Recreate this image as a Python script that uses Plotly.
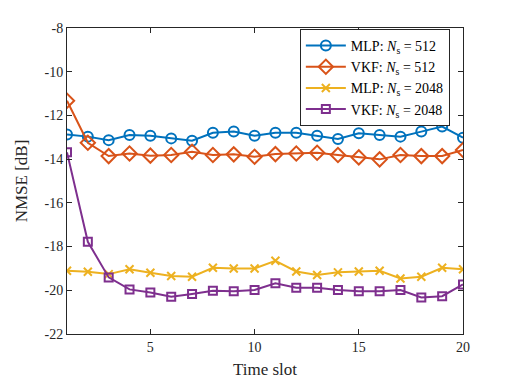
import plotly.graph_objects as go

time_slot = list(range(1, 21))

mlp_512 = [-12.87, -12.97, -13.13, -12.90, -12.93, -13.05, -13.16, -12.79, -12.74, -12.93,
           -12.79, -12.79, -12.93, -13.08, -12.82, -12.90, -12.97, -12.74, -12.51, -13.02]
vkf_512 = [-11.33, -13.25, -13.86, -13.74, -13.84, -13.81, -13.66, -13.81, -13.78, -13.89,
           -13.77, -13.74, -13.71, -13.81, -13.92, -14.01, -13.81, -13.86, -13.86, -13.58]
mlp_2048 = [-19.11, -19.15, -19.26, -19.04, -19.20, -19.35, -19.38, -18.97, -19.00, -19.00,
            -18.65, -19.14, -19.30, -19.18, -19.14, -19.11, -19.46, -19.38, -18.97, -19.04]
vkf_2048 = [-13.69, -17.78, -19.41, -19.96, -20.10, -20.30, -20.17, -20.02, -20.04, -19.99,
            -19.68, -19.88, -19.88, -19.99, -20.04, -20.04, -19.99, -20.33, -20.27, -19.73]

y_ticks = [-22, -20, -18, -16, -14, -12, -10, -8]
y_labels = ['-22', '-20', '-18', '-16', '-14', '-12', '-10', '-8']
x_ticks = [5, 10, 15, 20]

series = [
    ('MLP: <i>N</i><sub>s</sub> = 512', mlp_512, '#0072BD', 'circle-open', 10),
    ('VKF: <i>N</i><sub>s</sub> = 512', vkf_512, '#D95319', 'diamond-open', 11),
    ('MLP: <i>N</i><sub>s</sub> = 2048', mlp_2048, '#EDB120', 'x-thin-open', 8),
    ('VKF: <i>N</i><sub>s</sub> = 2048', vkf_2048, '#7E2F8E', 'square-open', 8),
]

fig = go.Figure()
for name, vals, color, symbol, size in series:
    fig.add_trace(go.Scatter(
        x=time_slot, y=vals, name=name, mode='lines+markers',
        line=dict(color=color, width=2),
        marker=dict(symbol=symbol, size=size, color=color,
                    line=dict(color=color, width=2))
    ))

axis_style = dict(
    showline=True, linecolor='#262626', linewidth=1, mirror='ticks',
    ticks='inside', ticklen=5, tickcolor='#262626',
    showgrid=False, zeroline=False, automargin=False,
    tickfont=dict(size=14, color='#262626')
)

# the page body adds an 8px offset, so the figure is 8px smaller
fig.update_layout(
    width=504, height=376,
    paper_bgcolor='white', plot_bgcolor='white',
    margin=dict(l=59, r=49, t=20, b=50),
    font=dict(family='Liberation Serif', color='#262626'),
    showlegend=True,
    legend=dict(
        x=0.588, y=0.997, xanchor='left', yanchor='top',
        bgcolor='white', bordercolor='#262626', borderwidth=1,
        font=dict(size=14, color='black'),
        tracegroupgap=0, itemwidth=40
    ),
    xaxis=dict(range=[1, 20], tickvals=x_ticks,
               title=dict(text='Time slot', font=dict(size=17), standoff=9),
               **axis_style),
    yaxis=dict(range=[-22, -8], tickvals=y_ticks, ticktext=y_labels,
               title=dict(text='NMSE [dB]', font=dict(size=17), standoff=12),
               **axis_style),
)

fig.write_html("out.html")
